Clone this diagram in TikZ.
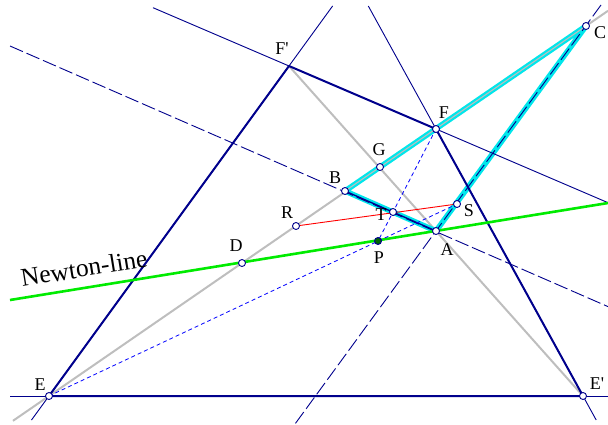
\documentclass[tikz,border=0pt]{standalone}
\usepackage{fontspec}
\setmainfont{Liberation Serif}[Ligatures=TeXOff]
\usetikzlibrary{calc}
\definecolor{navy}{RGB}{0,0,140}
\definecolor{cyanh}{RGB}{0,230,235}
\definecolor{newton}{RGB}{0,235,0}
\definecolor{ptgreen}{RGB}{0,100,0}
\definecolor{greyl}{RGB}{190,190,190}
\begin{document}
\begin{tikzpicture}[x=1pt,y=-1pt,
  thinline/.style={draw=navy, line width=0.9pt},
  thickline/.style={draw=navy, line width=2pt},
  navydash/.style={draw=navy, line width=0.9pt, dash pattern=on 14pt off 4pt},
  bluedash/.style={draw=blue, line width=0.8pt, dash pattern=on 4pt off 3pt},
  greyline/.style={draw=greyl, line width=2pt},
  cyanline/.style={draw=cyanh, line width=5.5pt, line join=round},
  newtonline/.style={draw=newton, line width=2.6pt},
  redline/.style={draw=red, line width=0.9pt},
  pt/.style={circle, draw=navy, fill=white, line width=0.9pt, inner sep=0pt, minimum size=7pt},
  ptg/.style={circle, draw=navy, fill=ptgreen, line width=0.9pt, inner sep=0pt, minimum size=7pt},
  lbl/.style={font=\fontsize{18}{18}\selectfont, inner sep=0pt}
]
\useasboundingbox (0,0) rectangle (608,424);
% points
\coordinate (E) at (49,396);
\coordinate (Ep) at (583,396);
\coordinate (Fp) at (289,66);
\coordinate (F) at (436,129);
\coordinate (C) at (586,26);
\coordinate (A) at (436,231);
\coordinate (B) at (345,191);
\coordinate (G) at (380,167);
\coordinate (S) at (457,204);
\coordinate (T) at (393,212);
\coordinate (R) at (296,226);
\coordinate (D) at (242,263);
\coordinate (P) at (378,241);
% line ends
\coordinate (l1a) at (153,7.7);
\coordinate (l1b) at (608,202.7);
\coordinate (l2a) at (31.5,420);
\coordinate (l2b) at (332.6,6);
\coordinate (l3a) at (368.3,6);
\coordinate (l3b) at (596.2,420);
\coordinate (h1) at (10,396);
\coordinate (h2) at (608,396);
\coordinate (g1) at (13,420.8);
\coordinate (g2) at (608,10.8);
\coordinate (d1) at (10,46);
\coordinate (d2) at (608,306.6);
\coordinate (c1) at (601,5);
\coordinate (c2) at (295,424);
\coordinate (n1) at (10,300);
\coordinate (n2) at (608,203);

% grey lines
\draw[greyline] (g1) -- (g2);
\draw[greyline] (Fp) -- (Ep);
% cyan triangle
\draw[cyanline] (B) -- (C) -- (A) -- cycle;
\draw[greyline, line width=1.1pt] (B) -- (C);
% thin navy lines
\draw[thinline] (l1a) -- (l1b);
\draw[thinline] (l2a) -- (l2b);
\draw[thinline] (l3a) -- (l3b);
\draw[thinline] (h1) -- (h2);
% dashed navy
\draw[navydash] (d1) -- (d2);
\draw[navydash] (c1) -- (c2);
\draw[thickline, line width=1.3pt] (A) -- (B);
% thick navy
\draw[thickline, line join=round] (E) -- (Fp) -- (F) -- (Ep) -- cycle;
% Newton line
\draw[newtonline] (n1) -- (n2);
% red
\draw[redline] (R) -- (S);
% blue dashed
\draw[bluedash] (E) -- (S);
\draw[bluedash] (F) -- (P);

% point markers
\foreach \p in {E,Ep,F,C,A,B,G,S,T,R,D}{\node[pt] (m\p) at (\p) {};}
\node[ptg] (mP) at (P) {};

% labels
\node[lbl] (tE) at (40,385) {E};
\node[lbl] (tEp) at (597,384) {E'};
\node[lbl] (tFp) at (282,49) {F'};
\node[lbl] (tF) at (444,113) {F};
\node[lbl] (tC) at (600,33) {C};
\node[lbl] (tG) at (379,150) {G};
\node[lbl] (tB) at (335,178) {B};
\node[lbl] (tR) at (287,213) {R};
\node[lbl] (tT) at (381,215) {T};
\node[lbl] (tS) at (469,211) {S};
\node[lbl] (tA) at (447,250) {A};
\node[lbl] (tP) at (379,258) {P};
\node[lbl] (tD) at (236,246) {D};
\node[font=\fontsize{25.5}{25.5}\selectfont, inner sep=0pt, rotate=9.2] (tN) at (84,268) {Newton-line};
\end{tikzpicture}
\end{document}
